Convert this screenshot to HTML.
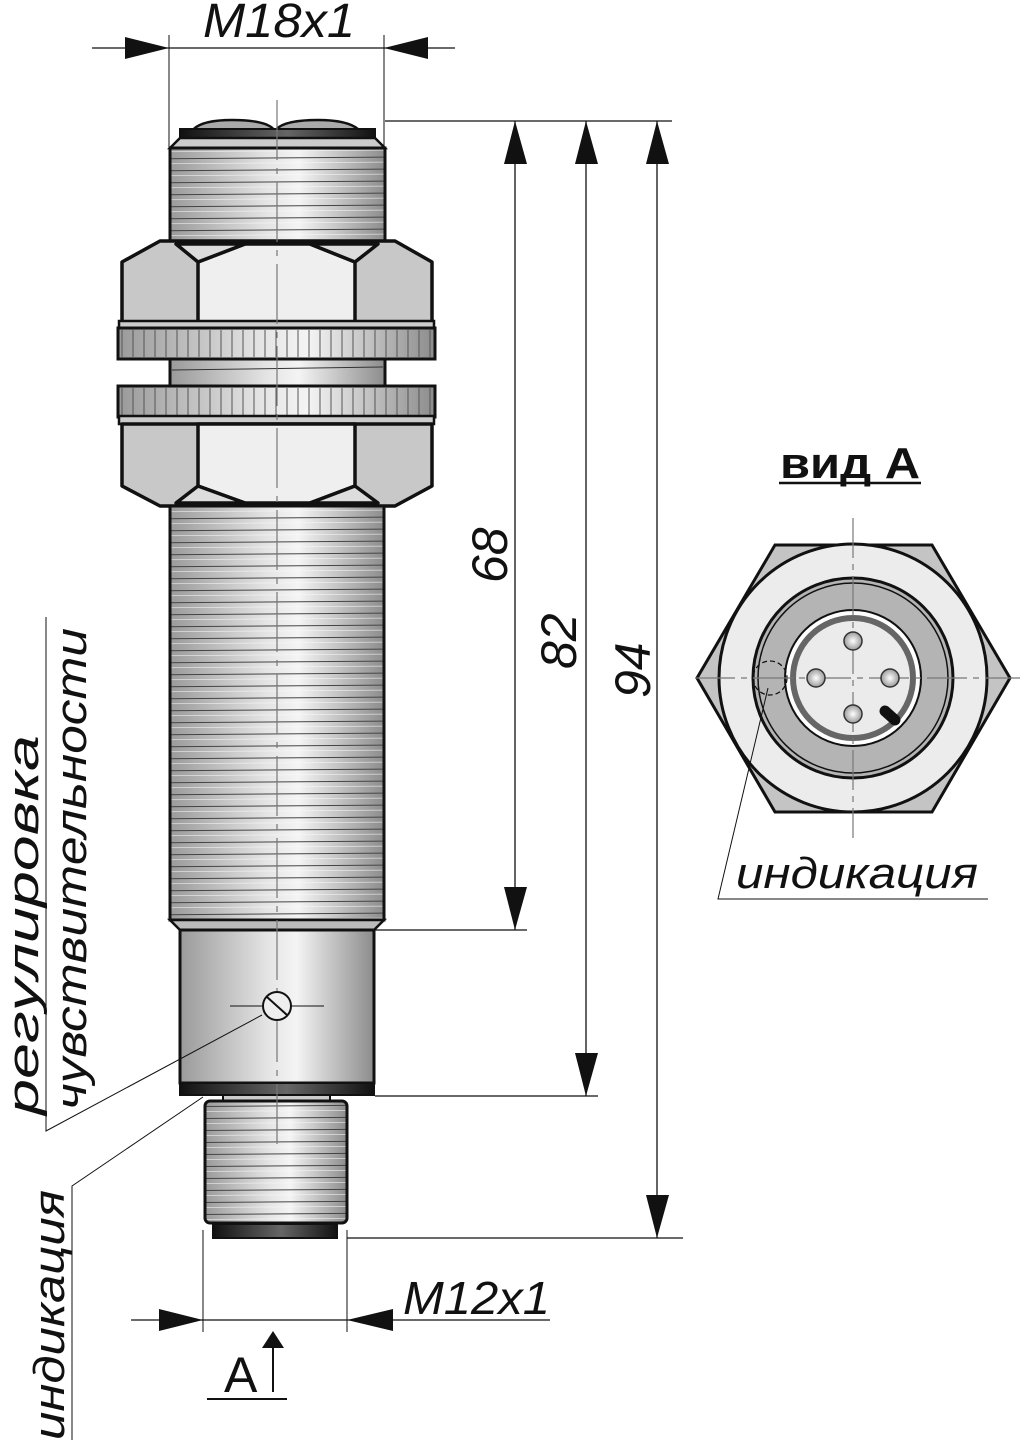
<!DOCTYPE html>
<html><head><meta charset="utf-8"><style>html,body{margin:0;padding:0;background:#fff}svg{display:block}</style></head>
<body>
<svg width="1026" height="1446" viewBox="0 0 1026 1446" xmlns="http://www.w3.org/2000/svg">
<defs>
<linearGradient id="cyl" x1="0" x2="1" y1="0" y2="0">
<stop offset="0" stop-color="#9a9a9a"/><stop offset="0.45" stop-color="#e4e4e4"/><stop offset="0.6" stop-color="#f4f4f4"/><stop offset="1" stop-color="#8c8c8c"/>
</linearGradient>
<linearGradient id="dark" x1="0" x2="1"><stop offset="0" stop-color="#111"/><stop offset="0.55" stop-color="#666"/><stop offset="1" stop-color="#111"/></linearGradient>
<pattern id="thr" x="0" y="0" width="400" height="12" patternUnits="userSpaceOnUse">
<line x1="0" y1="4" x2="400" y2="1" stroke="#444" stroke-width="1"/>
<line x1="0" y1="9" x2="400" y2="6" stroke="#fafafa" stroke-width="0.8" opacity="0.7"/>
</pattern>
<pattern id="knurl" x="0" y="0" width="11" height="40" patternUnits="userSpaceOnUse">
<line x1="1" y1="0" x2="1" y2="40" stroke="#555" stroke-width="1"/>
</pattern>
<radialGradient id="pin" cx="0.5" cy="0.5" r="0.6"><stop offset="0" stop-color="#fff"/><stop offset="1" stop-color="#888"/></radialGradient>
</defs>
<g font-family="Liberation Sans, sans-serif" fill="#111">

<text x="203" y="37" font-size="48" font-style="italic" textLength="152" lengthAdjust="spacingAndGlyphs">M18x1</text>
<line x1="92" y1="48" x2="455" y2="48" stroke="#111" stroke-width="1.3"/>
<polygon points="169,48 125,37 125,59"/><polygon points="384,48 428,37 428,59"/>
<line x1="169" y1="35" x2="169" y2="148" stroke="#111" stroke-width="1"/>
<line x1="384" y1="35" x2="384" y2="148" stroke="#111" stroke-width="1"/>

<path d="M192,131 Q200,120 232,120 Q268,120 275,131 Q282,120 318,120 Q350,120 360,131 Z" fill="#aaa" stroke="#111" stroke-width="2.5"/>
<rect x="180" y="129" width="195" height="9" fill="url(#dark)" stroke="#111" stroke-width="2"/>
<polygon points="180,138 375,138 385,148 170,148" fill="#ccc" stroke="#111" stroke-width="2.5"/>
<rect x="170" y="148" width="215" height="95" fill="url(#cyl)"/>
<rect x="170" y="148" width="215" height="95" fill="url(#thr)"/>
<rect x="170" y="148" width="215" height="95" fill="none" stroke="#111" stroke-width="3"/>

<g stroke="#111" stroke-width="3.5" stroke-linejoin="round">
<polygon points="160,241 395,241 432,262 432,322 122,322 122,262" fill="#c8c8c8"/>
<polygon points="198,262 245,244 310,244 355,262 355,322 198,322" fill="#efefef"/>
<polygon points="176,244 245,244 198,262" fill="#ddd"/>
<polygon points="310,244 378,244 355,262" fill="#ddd"/>
</g>
<rect x="119" y="321" width="315" height="8" fill="#ccc" stroke="#111" stroke-width="2.5"/>
<rect x="118" y="328" width="317" height="31" fill="url(#cyl)" stroke="#111" stroke-width="3"/>
<rect x="119" y="330" width="315" height="27" fill="url(#knurl)"/>
<rect x="170" y="359" width="215" height="28" fill="url(#cyl)" stroke="#111" stroke-width="3"/>
<line x1="172" y1="370" x2="383" y2="367" stroke="#333"/>
<rect x="118" y="386" width="317" height="31" fill="url(#cyl)" stroke="#111" stroke-width="3"/>
<rect x="119" y="388" width="315" height="27" fill="url(#knurl)"/>
<rect x="119" y="416" width="315" height="8" fill="#ccc" stroke="#111" stroke-width="2.5"/>
<g stroke="#111" stroke-width="3.5" stroke-linejoin="round">
<polygon points="122,424 432,424 432,486 395,506 160,506 122,486" fill="#c8c8c8"/>
<polygon points="198,424 355,424 355,486 310,503 245,503 198,486" fill="#efefef"/>
<polygon points="198,486 245,503 176,503" fill="#ddd"/>
<polygon points="355,486 310,503 378,503" fill="#ddd"/>
</g>
<rect x="170" y="506" width="214" height="414" fill="url(#cyl)"/>
<rect x="170" y="506" width="214" height="414" fill="url(#thr)"/>
<rect x="170" y="506" width="214" height="414" fill="none" stroke="#111" stroke-width="3"/>
<polygon points="170,920 384,920 374,930 180,930" fill="#bbb" stroke="#111" stroke-width="2.5"/>
<rect x="180" y="930" width="194" height="153" fill="url(#cyl)" stroke="#111" stroke-width="3"/>
<rect x="180" y="1083" width="194" height="12" fill="url(#dark)" stroke="#111" stroke-width="2"/>
<rect x="223" y="1095" width="107" height="6" fill="#ccc" stroke="#111" stroke-width="2"/>
<rect x="205" y="1101" width="142" height="122" rx="5" fill="url(#cyl)"/>
<rect x="205" y="1101" width="142" height="122" rx="5" fill="url(#thr)"/>
<rect x="205" y="1101" width="142" height="122" rx="5" fill="none" stroke="#111" stroke-width="3"/>
<rect x="213" y="1224" width="124" height="14" fill="url(#dark)" stroke="#111" stroke-width="2"/>

<line x1="277" y1="100" x2="277" y2="1150" stroke="#777" stroke-width="1.2" stroke-dasharray="60,8,6,8"/>

<line x1="230" y1="1006" x2="324" y2="1006" stroke="#111" stroke-width="1"/>
<circle cx="277" cy="1006" r="14" fill="#eee" stroke="#111" stroke-width="2"/>
<line x1="267" y1="997" x2="287" y2="1015" stroke="#111" stroke-width="2"/>

<polyline points="46,617 46,1131 262,1015" fill="none" stroke="#111" stroke-width="1"/>
<polyline points="72,1440 72,1186 203,1097" fill="none" stroke="#111" stroke-width="1"/>
<text transform="translate(38,1115) rotate(-90)" font-size="44" font-style="italic" textLength="380" lengthAdjust="spacingAndGlyphs">регулировка</text>
<text transform="translate(86,1110) rotate(-90)" font-size="44" font-style="italic" textLength="482" lengthAdjust="spacingAndGlyphs">чувствительности</text>
<text transform="translate(64,1440) rotate(-90)" font-size="44" font-style="italic" textLength="250" lengthAdjust="spacingAndGlyphs">индикация</text>

<g stroke="#111" stroke-width="1.3">
<line x1="385" y1="121" x2="672" y2="121"/>
<line x1="375" y1="930" x2="527" y2="930"/>
<line x1="375" y1="1096" x2="598" y2="1096"/>
<line x1="347" y1="1238" x2="683" y2="1238"/>
<line x1="515" y1="121" x2="515" y2="930"/>
<line x1="586" y1="121" x2="586" y2="1096"/>
<line x1="657" y1="121" x2="657" y2="1238"/>
</g>
<polygon points="515,121 504,164 527,164"/><polygon points="515,930 504,887 527,887"/>
<polygon points="586,121 575,164 598,164"/><polygon points="586,1096 575,1053 598,1053"/>
<polygon points="657,121 646,164 669,164"/><polygon points="657,1238 646,1195 669,1195"/>
<text transform="translate(507,583) rotate(-90)" font-size="50" font-style="italic">68</text>
<text transform="translate(576,669) rotate(-90)" font-size="50" font-style="italic">82</text>
<text transform="translate(650,698) rotate(-90)" font-size="50" font-style="italic">94</text>

<line x1="203" y1="1230" x2="203" y2="1332" stroke="#111" stroke-width="1"/>
<line x1="347" y1="1230" x2="347" y2="1332" stroke="#111" stroke-width="1"/>
<line x1="131" y1="1320" x2="550" y2="1320" stroke="#111" stroke-width="1.3"/>
<polygon points="203,1320 159,1309 159,1331"/><polygon points="347,1320 393,1309 393,1331"/>
<text x="403" y="1314" font-size="46" font-style="italic" textLength="147" lengthAdjust="spacingAndGlyphs">M12x1</text>
<line x1="273" y1="1392" x2="273" y2="1345" stroke="#111" stroke-width="2"/>
<polygon points="273,1331 262,1348 284,1348"/>
<text x="224" y="1392" font-size="50">A</text>
<line x1="207" y1="1399" x2="287" y2="1399" stroke="#111" stroke-width="2"/>

<text x="780" y="478" font-size="44" font-weight="bold" textLength="140" lengthAdjust="spacingAndGlyphs">вид А</text>
<line x1="779" y1="483" x2="921" y2="483" stroke="#111" stroke-width="2.5"/>
<polygon points="775,545 932,545 1010,678 932,812 775,812 697,678" fill="#c4c4c4" stroke="#111" stroke-width="3"/>
<circle cx="853" cy="678" r="134" fill="#ececec" stroke="#111" stroke-width="3"/>
<circle cx="853" cy="678" r="100" fill="#b4b4b4" stroke="#111" stroke-width="3"/>
<circle cx="853" cy="678" r="95" fill="none" stroke="#111" stroke-width="1.5"/>
<circle cx="853" cy="678" r="68" fill="#fff" stroke="#111" stroke-width="2"/>
<circle cx="853" cy="678" r="60" fill="#ebebeb" stroke="#666" stroke-width="6"/>
<circle cx="770" cy="678" r="17" fill="none" stroke="#111" stroke-width="1.3" stroke-dasharray="5,3"/>
<line x1="853" y1="518" x2="853" y2="838" stroke="#777" stroke-width="1.2" stroke-dasharray="40,6,6,6"/>
<line x1="695" y1="678" x2="1020" y2="678" stroke="#777" stroke-width="1.2" stroke-dasharray="40,6,6,6"/>
<g stroke="#333" stroke-width="1.5" fill="url(#pin)">
<circle cx="853" cy="641" r="9"/><circle cx="816" cy="678" r="9"/><circle cx="890" cy="678" r="9"/><circle cx="853" cy="714" r="9"/>
</g>
<line x1="885" y1="711" x2="895" y2="720" stroke="#111" stroke-width="11" stroke-linecap="round"/>
<polyline points="768,688 718,899 988,899" fill="none" stroke="#111" stroke-width="1"/>
<text x="736" y="888" font-size="44" font-style="italic" textLength="242" lengthAdjust="spacingAndGlyphs">индикация</text>
</g>
</svg>
</body></html>
